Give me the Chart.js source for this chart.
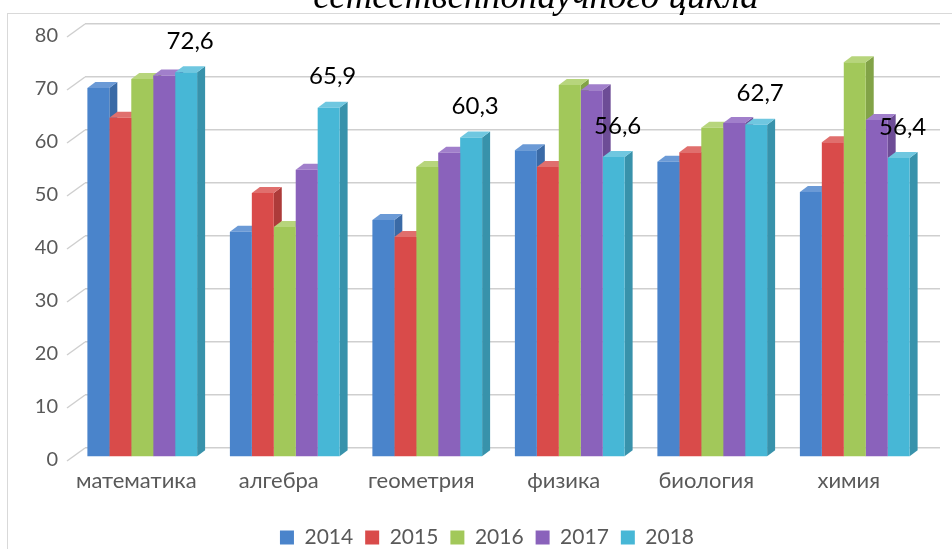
<!DOCTYPE html>
<html>
<head>
<meta charset="utf-8">
<script src="https://cdn.jsdelivr.net/npm/chart.js@4.4.0/dist/chart.umd.min.js"></script>
<style>
    html, body { margin: 0; padding: 0; background: #fff; }
</style>
</head>
<body>
<canvas id="subjectsChart" width="952" height="549"></canvas>
<script>
// Chart data
const subjects = ['математика', 'алгебра', 'геометрия', 'физика', 'биология', 'химия'];
const years = ['2014', '2015', '2016', '2017', '2018'];
const values2014 = [69.6, 42.5, 44.7, 57.9, 55.7, 50.0];
const values2015 = [64.0, 49.8, 41.5, 54.7, 57.5, 59.4];
const values2016 = [71.3, 43.4, 54.7, 70.2, 62.1, 74.5];
const values2017 = [72.0, 54.2, 57.4, 69.2, 63.0, 63.6];
const values2018 = [72.6, 65.9, 60.3, 56.6, 62.7, 56.4];
const yTicks = [0, 10, 20, 30, 40, 50, 60, 70, 80];
const titleText = 'естественнонаучного цикла';

const seriesValues = [values2014, values2015, values2016, values2017, values2018];
const frontColors = ['#4a84cb', '#d94b4a', '#a2c85a', '#8a62bb', '#47b7d6'];
const sideColors = ['#3a6aa6', '#ad3b3a', '#82a347', '#6d4c96', '#3892ab'];
const topColors = ['#6b9ad6', '#e06f6d', '#b7d57c', '#a17fcb', '#6fc7e0'];

// 3D offsets
const depthX = 8, depthY = 6;
const shiftX = -14, shiftY = 9;
const wallX = 18, wallY = 13;

const textColor = '#595959';

// frame, title and slanted wall ticks
const framePlugin = {
    id: 'frame',
    beforeDraw(chart) {
        const ctx = chart.ctx;
        ctx.save();
        ctx.fillStyle = '#fff';
        ctx.fillRect(0, 0, chart.width, chart.height);
        ctx.strokeStyle = '#d9d9d9';
        ctx.lineWidth = 1;
        ctx.strokeRect(7.5, 13.5, chart.width + 20, chart.height + 20);
        ctx.fillStyle = '#000';
        ctx.font = 'italic 37px "Liberation Serif"';
        ctx.textAlign = 'center';
        ctx.textBaseline = 'alphabetic';
        ctx.fillText(titleText, 536, 8);
        ctx.restore();
    },
    afterDraw(chart) {
        const ctx = chart.ctx;
        const y = chart.scales.y;
        const left = chart.chartArea.left;
        ctx.save();
        ctx.strokeStyle = '#cfcfcf';
        ctx.lineWidth = 1.5;
        yTicks.forEach(v => {
            const py = y.getPixelForValue(v);
            ctx.beginPath();
            ctx.moveTo(left - wallX, py + wallY);
            ctx.lineTo(left, py);
            ctx.stroke();
        });
        ctx.restore();
    }
};

// side and top faces of the bars, then value labels
const bars3dPlugin = {
    id: 'bars3d',
    beforeDatasetsDraw(chart) {
        const ctx = chart.ctx;
        ctx.save();
        ctx.translate(shiftX, shiftY);
        const metas = chart.data.datasets.map((d, i) => chart.getDatasetMeta(i));
        for (let c = 0; c < subjects.length; c++) {
            metas.forEach((meta, i) => {
                const el = meta.data[c];
                const l = el.x - el.width / 2, r = el.x + el.width / 2;
                const t = el.y, b = el.base;
                ctx.fillStyle = sideColors[i];
                ctx.beginPath();
                ctx.moveTo(r, t);
                ctx.lineTo(r + depthX, t - depthY);
                ctx.lineTo(r + depthX, b - depthY);
                ctx.lineTo(r, b);
                ctx.closePath();
                ctx.fill();
                ctx.fillStyle = topColors[i];
                ctx.beginPath();
                ctx.moveTo(l, t);
                ctx.lineTo(r, t);
                ctx.lineTo(r + depthX, t - depthY);
                ctx.lineTo(l + depthX, t - depthY);
                ctx.closePath();
                ctx.fill();
            });
        }
    },
    afterDatasetsDraw(chart) {
        const ctx = chart.ctx;
        ctx.restore();
        const meta = chart.getDatasetMeta(4);
        ctx.save();
        ctx.fillStyle = '#000';
        ctx.font = '24px Lato';
        ctx.textAlign = 'center';
        ctx.textBaseline = 'middle';
        meta.data.forEach((el, i) => {
            const label = values2018[i].toFixed(1).replace('.', ',');
            ctx.fillText(label, el.x + shiftX + 4, el.y + shiftY - 31);
        });
        ctx.restore();
    }
};

const ctx = document.getElementById('subjectsChart').getContext('2d');
const subjectsChart = new Chart(ctx, {
    type: 'bar',
    data: {
        labels: subjects,
        datasets: years.map((year, i) => ({
            label: year,
            data: seriesValues[i],
            backgroundColor: frontColors[i],
            borderWidth: 0,
            barPercentage: 1.0,
            categoryPercentage: 0.77,
            clip: false
        }))
    },
    options: {
        responsive: false,
        animation: false,
        layout: {
            padding: { top: 24, right: 12, left: 34, bottom: -9 }
        },
        plugins: {
            legend: {
                position: 'bottom',
                labels: {
                    boxWidth: 14,
                    boxHeight: 14,
                    padding: 12,
                    color: textColor,
                    font: { family: 'Lato', size: 21 }
                }
            },
            tooltip: { enabled: false }
        },
        scales: {
            y: {
                min: 0,
                max: 80,
                afterFit(scale) { scale.width = 51; },
                ticks: {
                    stepSize: 10,
                    padding: 0,
                    labelOffset: wallY - 1,
                    color: textColor,
                    font: { family: 'Lato', size: 20 }
                },
                grid: {
                    color: '#cfcfcf',
                    lineWidth: 1.5,
                    drawTicks: true,
                    tickLength: 27,
                    tickColor: 'rgba(0,0,0,0)'
                },
                border: { display: false }
            },
            x: {
                afterFit(scale) { scale.height = 67; },
                ticks: {
                    padding: 12,
                    labelOffset: -20,
                    color: textColor,
                    font: { family: 'Lato', size: 22 }
                },
                grid: { display: false },
                border: { display: false }
            }
        }
    },
    plugins: [framePlugin, bars3dPlugin]
});
</script>
</body>
</html>
